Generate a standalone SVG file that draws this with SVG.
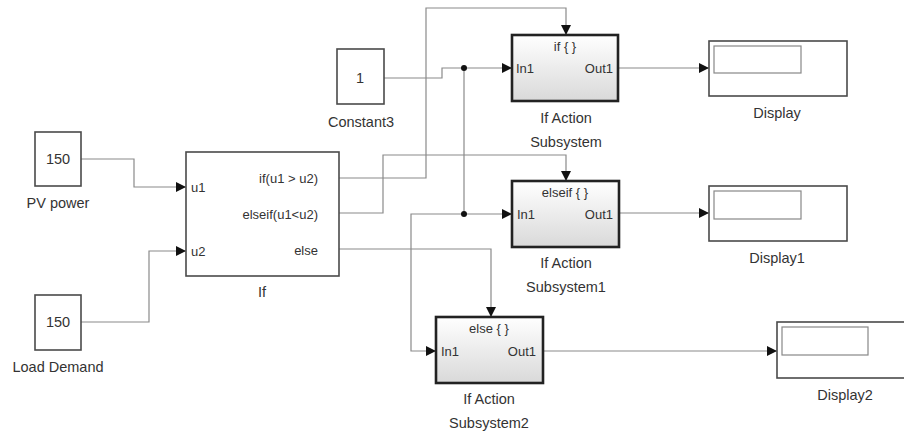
<svg xmlns="http://www.w3.org/2000/svg" width="904" height="435" viewBox="0 0 904 435">
<defs>
<marker id="arr" markerUnits="userSpaceOnUse" markerWidth="11" markerHeight="12" refX="10" refY="6" orient="auto">
<path d="M0,1 L10,6 L0,11 Z" fill="#111"/>
</marker>
<linearGradient id="sub" x1="0" y1="0" x2="0" y2="1">
<stop offset="0" stop-color="#ffffff"/>
<stop offset="1" stop-color="#d9d9d9"/>
</linearGradient>
<style>
.blk{fill:#fff;stroke:#4a4a4a;stroke-width:1.6}
.sub{fill:url(#sub);stroke:#222;stroke-width:2.6}
.inner{fill:#fff;stroke:#888;stroke-width:1.2}
.wire{fill:none;stroke:#8a8a8a;stroke-width:1.2}
.arw{marker-end:url(#arr)}
.dot{fill:#111}
text{font-family:"Liberation Sans",Arial,sans-serif;fill:#333}
.lbl{font-size:14.5px;text-anchor:middle}
.val{font-size:14.5px;text-anchor:middle}
.port{font-size:13px}
.pr{font-size:13px;text-anchor:end}
.ttl{font-size:13px;text-anchor:middle}
</style>
</defs>
<rect width="904" height="435" fill="#fff"/>

<g id="connectors">
<path class="wire arw" d="M81,159 H134 V187 H186"/>
<path class="wire arw" d="M81,322 H149 V251 H186"/>
<path class="wire arw" d="M339,178 H426 V8 H566 V35"/>
<path class="wire arw" d="M339,213 H383 V155 H566 V181"/>
<path class="wire arw" d="M339,249 H491 V317"/>
<path class="wire arw" d="M384,78 H442 V68 H512"/>
<path class="wire" d="M464,68 V214"/>
<path class="wire arw" d="M464,214 H512"/>
<path class="wire arw" d="M464,214 H411 V351 H436"/>
<path class="wire arw" d="M618,68 H709"/>
<path class="wire arw" d="M619,213 H709"/>
<path class="wire arw" d="M543,351 H777"/>
<circle class="dot" cx="464" cy="68" r="3"/>
<circle class="dot" cx="464" cy="214" r="3"/>
</g>

<g id="pv-power">
<rect class="blk" x="35" y="132" width="46" height="54"/>
<text class="val" x="58" y="164">150</text>
<text class="lbl" x="58" y="208">PV power</text>
</g>

<g id="load-demand">
<rect class="blk" x="35" y="295" width="46" height="55"/>
<text class="val" x="58" y="327">150</text>
<text class="lbl" x="58" y="372">Load Demand</text>
</g>

<g id="constant3">
<rect class="blk" x="337" y="49" width="47" height="55"/>
<text class="val" x="360" y="83">1</text>
<text class="lbl" x="361" y="127">Constant3</text>
</g>

<g id="if-block">
<rect class="blk" x="186" y="152" width="153" height="124"/>
<text class="port" x="191" y="192">u1</text>
<text class="port" x="191" y="256">u2</text>
<text class="pr" x="318" y="183">if(u1 &gt; u2)</text>
<text class="pr" x="318" y="219">elseif(u1&lt;u2)</text>
<text class="pr" x="318" y="255">else</text>
<text class="lbl" x="262" y="297">If</text>
</g>

<g id="if-action-subsystem">
<rect class="sub" x="512" y="35" width="106" height="66"/>
<text class="ttl" x="565" y="51">if { }</text>
<text class="port" x="516" y="73">In1</text>
<text class="pr" x="613" y="73">Out1</text>
<text class="lbl" x="566" y="123">If Action</text>
<text class="lbl" x="566" y="147">Subsystem</text>
</g>

<g id="if-action-subsystem1">
<rect class="sub" x="512" y="181" width="107" height="66"/>
<text class="ttl" x="565" y="197">elseif { }</text>
<text class="port" x="517" y="219">In1</text>
<text class="pr" x="613" y="219">Out1</text>
<text class="lbl" x="566" y="268">If Action</text>
<text class="lbl" x="566" y="292">Subsystem1</text>
</g>

<g id="if-action-subsystem2">
<rect class="sub" x="436" y="317" width="107" height="66"/>
<text class="ttl" x="489" y="333">else { }</text>
<text class="port" x="441" y="356">In1</text>
<text class="pr" x="536" y="356">Out1</text>
<text class="lbl" x="489" y="404">If Action</text>
<text class="lbl" x="489" y="428">Subsystem2</text>
</g>

<g id="display">
<rect class="blk" x="709" y="41" width="138" height="55"/>
<rect class="inner" x="714" y="46" width="87" height="27"/>
<text class="lbl" x="777" y="118">Display</text>
</g>

<g id="display1">
<rect class="blk" x="709" y="186" width="138" height="55"/>
<rect class="inner" x="714" y="191" width="87" height="28"/>
<text class="lbl" x="777" y="263">Display1</text>
</g>

<g id="display2">
<rect class="blk" x="777" y="322" width="138" height="56"/>
<rect class="inner" x="782" y="327" width="86" height="28"/>
<text class="lbl" x="845" y="400">Display2</text>
</g>
</svg>
